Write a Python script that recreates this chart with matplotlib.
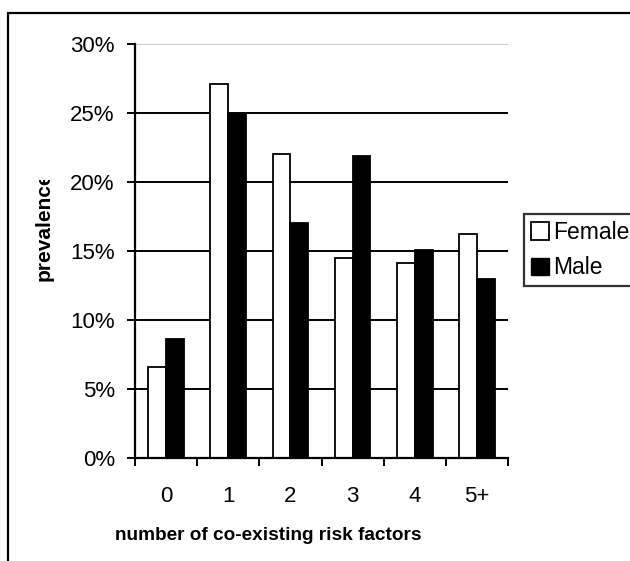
import numpy as np
import matplotlib
matplotlib.use("Agg")
import matplotlib.pyplot as plt
from matplotlib.patches import Rectangle, Patch
from matplotlib.transforms import Bbox, TransformedBbox

plt.rcParams['font.family'] = ['Liberation Sans', 'DejaVu Sans']

categories = ['0', '1', '2', '3', '4', '5+']
female = [6.6, 27.1, 22.0, 14.5, 14.1, 16.2]
male = [8.6, 24.9, 17.0, 21.9, 15.1, 13.0]
yticks = [0, 5, 10, 15, 20, 25, 30]

W, H = 630, 561
fig = plt.figure(figsize=(W / 100, H / 100), dpi=100)

# outer chart border (runs off the right and bottom edges)
fig.add_artist(Rectangle((8 / W, -0.05), 1.2, 1 - 13 / H + 0.05, transform=fig.transFigure,
                         fill=False, ec='black', lw=1.6))

ax = fig.add_axes([135 / W, 1 - 458 / H, (508 - 135) / W, (458 - 44) / H])
x = np.arange(len(categories))
bw = 0.286

for yv in yticks[1:-1]:
    ax.axhline(yv, color='black', lw=1.4, zorder=1)
ax.axhline(30, color='#c0c0c0', lw=1.2, zorder=1)

ax.bar(x - bw / 2, female, bw, color='white', edgecolor='black', lw=1.3, zorder=2, label='Female')
ax.bar(x + bw / 2, male, bw, color='black', edgecolor='black', lw=1.3, zorder=2, label='Male')

ax.set_xlim(-0.5, len(categories) - 0.5)
ax.set_ylim(0, 30)
ax.set_yticks(yticks)
ax.set_yticklabels(['{}%'.format(v) for v in yticks], fontsize=16)
ax.set_xticks(x)
ax.set_xticklabels(categories, fontsize=16)
ax.set_xticks(np.arange(len(categories) + 1) - 0.5, minor=True)
ax.tick_params(axis='x', which='major', length=0, pad=20)
ax.tick_params(axis='x', which='minor', length=6, width=1.4, direction='out')
ax.tick_params(axis='y', length=6, width=1.4, direction='out', pad=8.5)

for s in ['top', 'right']:
    ax.spines[s].set_visible(False)
ax.spines['left'].set_linewidth(1.6)
ax.spines['bottom'].set_linewidth(1.6)

fig.text(268 / W, 1 - 540 / H, 'number of co-existing risk factors', ha='center', va='baseline',
         fontsize=13.7, fontweight='bold')

# y label, clipped at the top like the original
yl = fig.text(44 / W, 1 - 226 / H, 'prevalence', ha='center', va='center', rotation=90,
              fontsize=15, fontweight='bold')
yl.set_clip_box(TransformedBbox(Bbox([[0, 0], [1, 1 - 180 / H]]), fig.transFigure))

handles = [Patch(facecolor='white', edgecolor='black', lw=1.3), Patch(facecolor='black', edgecolor='black')]
leg = fig.legend(handles, ['Female', 'Male'], loc='upper left', bbox_to_anchor=(524 / W, 1 - 214 / H),
                 fontsize=16.5, frameon=True, fancybox=False, edgecolor='black', borderpad=0.3,
                 handlelength=0.8, handleheight=0.8, handletextpad=0.15, labelspacing=0.55,
                 borderaxespad=0)
leg.get_frame().set_linewidth(1.6)

fig.savefig('out.png', dpi=100)
